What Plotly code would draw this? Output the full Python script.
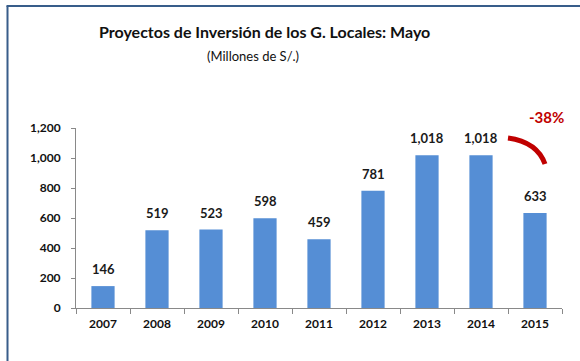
import plotly.graph_objects as go

# Inversión de proyectos de gobiernos locales, acumulado a mayo (millones de S/.)
years = ["2007", "2008", "2009", "2010", "2011", "2012", "2013", "2014", "2015"]
values = [146, 519, 523, 598, 459, 781, 1018, 1018, 633]
change_label = "-38%"

W, H = 580, 361
ML, MR, MT, MB = 76, 18, 128, 53
PW, PH = W - ML - MR, H - MT - MB

FONT = "Lato, 'Open Sans', sans-serif"
BAR_COLOR = "#558ed5"
AXIS_COLOR = "#898989"
RED = "#c00000"
FRAME = "#385d8a"


def px_x(px):
    return (px - ML) / PW


def px_y(py):
    return (H - MB - py) / PH


fig = go.Figure()
fig.add_trace(go.Bar(
    x=years, y=values,
    marker=dict(color=BAR_COLOR, line=dict(width=0)),
    width=0.43,
    hoverinfo="x+y",
))

# value labels above each bar (category index as x position)
annotations = []
for i, v in enumerate(values):
    annotations.append(dict(
        x=i, y=v, xref="x", yref="y", text=f"<b>{v:,}</b>",
        showarrow=False, yanchor="bottom", yshift=7,
        font=dict(family=FONT, size=13, color="#1a1a1a"),
    ))

# titles
annotations.append(dict(
    x=px_x(264), y=px_y(32), xref="paper", yref="paper",
    text="<b>Proyectos de Inversión de los G. Locales: Mayo</b>",
    showarrow=False, xanchor="center", yanchor="middle",
    font=dict(family=FONT, size=16, color="#111111"),
))
annotations.append(dict(
    x=px_x(253), y=px_y(56), xref="paper", yref="paper",
    text="(Millones de S/.)",
    showarrow=False, xanchor="center", yanchor="middle",
    font=dict(family=FONT, size=13, color="#111111"),
))
# change annotation
annotations.append(dict(
    x=px_x(546), y=px_y(117), xref="paper", yref="paper",
    text=f"<b>{change_label}</b>",
    showarrow=False, xanchor="center", yanchor="middle",
    font=dict(family=FONT, size=15, color=RED),
))

# curved stroke from the 2014 bar down toward the 2015 bar
p0 = (px_x(508), px_y(138))
pc = (px_x(537), px_y(142))
p1 = (px_x(545), px_y(164))
arc_path = f"M {p0[0]},{p0[1]} Q {pc[0]},{pc[1]} {p1[0]},{p1[1]}"

shapes = [
    dict(type="path", xref="paper", yref="paper", path=arc_path,
         line=dict(color=RED, width=5)),
    # frame lines of the chart area
    dict(type="line", xref="paper", yref="paper",
         x0=px_x(7.5), x1=px_x(7.5), y0=px_y(6), y1=px_y(H + 5),
         line=dict(color=FRAME, width=2)),
    dict(type="line", xref="paper", yref="paper",
         x0=px_x(6.5), x1=px_x(W + 5), y0=px_y(6), y1=px_y(6),
         line=dict(color=FRAME, width=2)),
]

fig.update_layout(
    width=W, height=H,
    margin=dict(l=ML, r=MR, t=MT, b=MB),
    paper_bgcolor="white", plot_bgcolor="white",
    showlegend=False,
    annotations=annotations,
    shapes=shapes,
    font=dict(family=FONT, color="#111111"),
    xaxis=dict(
        type="category", range=[-0.5, len(years) - 0.5],
        showline=True, linecolor=AXIS_COLOR, linewidth=1,
        ticks="outside", tickson="boundaries", ticklen=5, tickcolor=AXIS_COLOR,
        tickfont=dict(family=FONT, size=12, color="#111111", weight="bold"),
        ticklabelstandoff=5, showgrid=False, zeroline=False,
    ),
    yaxis=dict(
        range=[0, 1200], dtick=200, tickformat=",",
        showline=True, linecolor=AXIS_COLOR, linewidth=1,
        ticks="outside", ticklen=4, tickcolor=AXIS_COLOR,
        tickfont=dict(family=FONT, size=12, color="#111111", weight="bold"),
        ticklabelstandoff=8, showgrid=False, zeroline=False,
    ),
)

fig.write_html("out.html")
